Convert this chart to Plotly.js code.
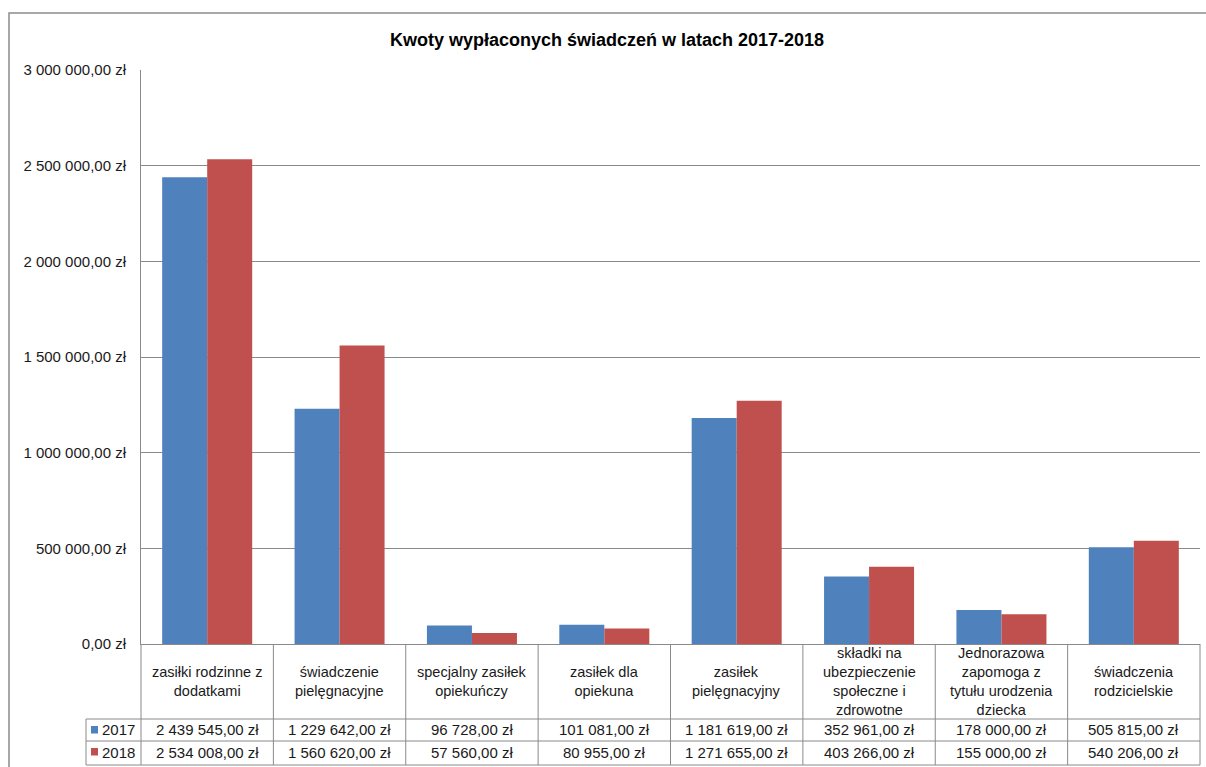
<!DOCTYPE html>
<html>
<head>
<meta charset="utf-8">
<script src="https://cdn.plot.ly/plotly-3.0.1.min.js"></script>
<style>html,body{margin:0;padding:0;background:#fff;}#chart{width:1206px;height:767px;}</style>
</head>
<body>
<div id="chart"></div>
<script>
const categories = [
  "zasiłki rodzinne z<br>dodatkami",
  "świadczenie<br>pielęgnacyjne",
  "specjalny zasiłek<br>opiekuńczy",
  "zasiłek dla<br>opiekuna",
  "zasiłek<br>pielęgnacyjny",
  "składki na<br>ubezpieczenie<br>społeczne i<br>zdrowotne",
  "Jednorazowa<br>zapomoga z<br>tytułu urodzenia<br>dziecka",
  "świadczenia<br>rodzicielskie"
];
const seriesNames = ["2017", "2018"];
const values2017 = [2439545, 1229642, 96728, 101081, 1181619, 352961, 178000, 505815];
const values2018 = [2534008, 1560620, 57560, 80955, 1271655, 403266, 155000, 540206];
const colors = ["#4F81BD", "#C0504D"];
const titleText = "Kwoty wypłaconych świadczeń w latach 2017-2018";

const W = 1206, H = 767;
const L = 141, R = 1200, T = 70, B = 644;
const px2x = p => (p - L) / (R - L);
const px2y = p => (B - p) / (B - T);

function fmt(v) {
  const s = v.toFixed(2).split(".");
  return s[0].replace(/\B(?=(\d{3})+(?!\d))/g, " ") + "," + s[1] + " zł";
}

const allSeries = [values2017, values2018];
const traces = allSeries.map((vals, k) => ({
  type: "bar",
  name: seriesNames[k],
  x: categories,
  y: vals,
  marker: {color: colors[k], line: {width: 0}},
  hoverinfo: "y"
}));

const gridCol = "#8a8a8a";
const shapes = [];
const annotations = [];

// outer chart border
shapes.push({type: "rect", xref: "paper", yref: "paper",
  x0: px2x(9), x1: px2x(1215), y0: px2y(13), y1: px2y(775),
  line: {color: "#8c8c8c", width: 1.5}, fillcolor: "rgba(0,0,0,0)"});

// table horizontal lines
[719, 741, 765].forEach(py => shapes.push({type: "line", xref: "paper", yref: "paper",
  x0: px2x(86), x1: 1, y0: px2y(py), y1: px2y(py), line: {color: gridCol, width: 1}}));
// legend column left edge
shapes.push({type: "line", xref: "paper", yref: "paper",
  x0: px2x(86), x1: px2x(86), y0: px2y(719), y1: px2y(765), line: {color: gridCol, width: 1}});
// left edge of table below axis
shapes.push({type: "line", xref: "paper", yref: "paper",
  x0: 0, x1: 0, y0: 0, y1: px2y(765), line: {color: gridCol, width: 1}});
// right edge
shapes.push({type: "line", xref: "paper", yref: "paper",
  x0: 1, x1: 1, y0: 0, y1: px2y(765), line: {color: gridCol, width: 1}});
// category separators
categories.forEach((c, i) => {
  if (i < categories.length - 1) {
    shapes.push({type: "line", xref: "x", yref: "paper",
      x0: i + 0.5, x1: i + 0.5, y0: 0, y1: px2y(765), line: {color: gridCol, width: 1}});
  }
});

const txtFont = {family: "Liberation Sans, Arial, sans-serif", size: 15, color: "#1a1a1a"};
const catFont = {family: "Liberation Sans, Arial, sans-serif", size: 14.5, color: "#1a1a1a"};

// category labels
categories.forEach((c, i) => {
  annotations.push({xref: "x", yref: "paper", x: i, y: px2y(681), text: c,
    showarrow: false, xanchor: "center", yanchor: "middle", align: "center", font: catFont});
});

// value rows + legend keys
const rowY = [730, 752];
allSeries.forEach((vals, k) => {
  vals.forEach((v, i) => {
    annotations.push({xref: "x", yref: "paper", x: i, y: px2y(rowY[k]), text: fmt(v),
      showarrow: false, xanchor: "center", yanchor: "middle", font: txtFont});
  });
  shapes.push({type: "rect", xref: "paper", yref: "paper",
    x0: px2x(91), x1: px2x(98), y0: px2y(rowY[k] - 4), y1: px2y(rowY[k] + 3.5),
    line: {width: 0}, fillcolor: colors[k]});
  annotations.push({xref: "paper", yref: "paper", x: px2x(100), y: px2y(rowY[k]),
    text: seriesNames[k], showarrow: false, xanchor: "left", yanchor: "middle", font: txtFont});
});

const layout = {
  width: W, height: H,
  margin: {l: L, r: W - R, t: T, b: H - B, pad: 0},
  paper_bgcolor: "#ffffff", plot_bgcolor: "#ffffff",
  showlegend: false,
  separators: ", ",
  bargap: 0.32, bargroupgap: 0,
  barmode: "group",
  title: {text: "<b>" + titleText + "</b>", x: 607 / W, xanchor: "center",
    y: 1 - 40 / H, yanchor: "middle", xref: "container", yref: "container",
    font: {family: "Liberation Sans, Arial, sans-serif", size: 18, color: "#000"}},
  xaxis: {type: "category", range: [-0.5, categories.length - 0.5], showticklabels: false,
    ticks: "", showgrid: false, zeroline: false, showline: true, linecolor: gridCol, linewidth: 1,
    fixedrange: true},
  yaxis: {range: [0, 3000000], dtick: 500000, tick0: 0, tickformat: ",.2f", ticksuffix: " zł",
    showgrid: true, gridcolor: gridCol, gridwidth: 1, zeroline: false,
    showline: true, linecolor: gridCol, linewidth: 1, ticks: "", ticklabelstandoff: 11,
    tickfont: txtFont, fixedrange: true},
  shapes: shapes,
  annotations: annotations
};

Plotly.newPlot("chart", traces, layout, {displayModeBar: false, staticPlot: true});
</script>
</body>
</html>
